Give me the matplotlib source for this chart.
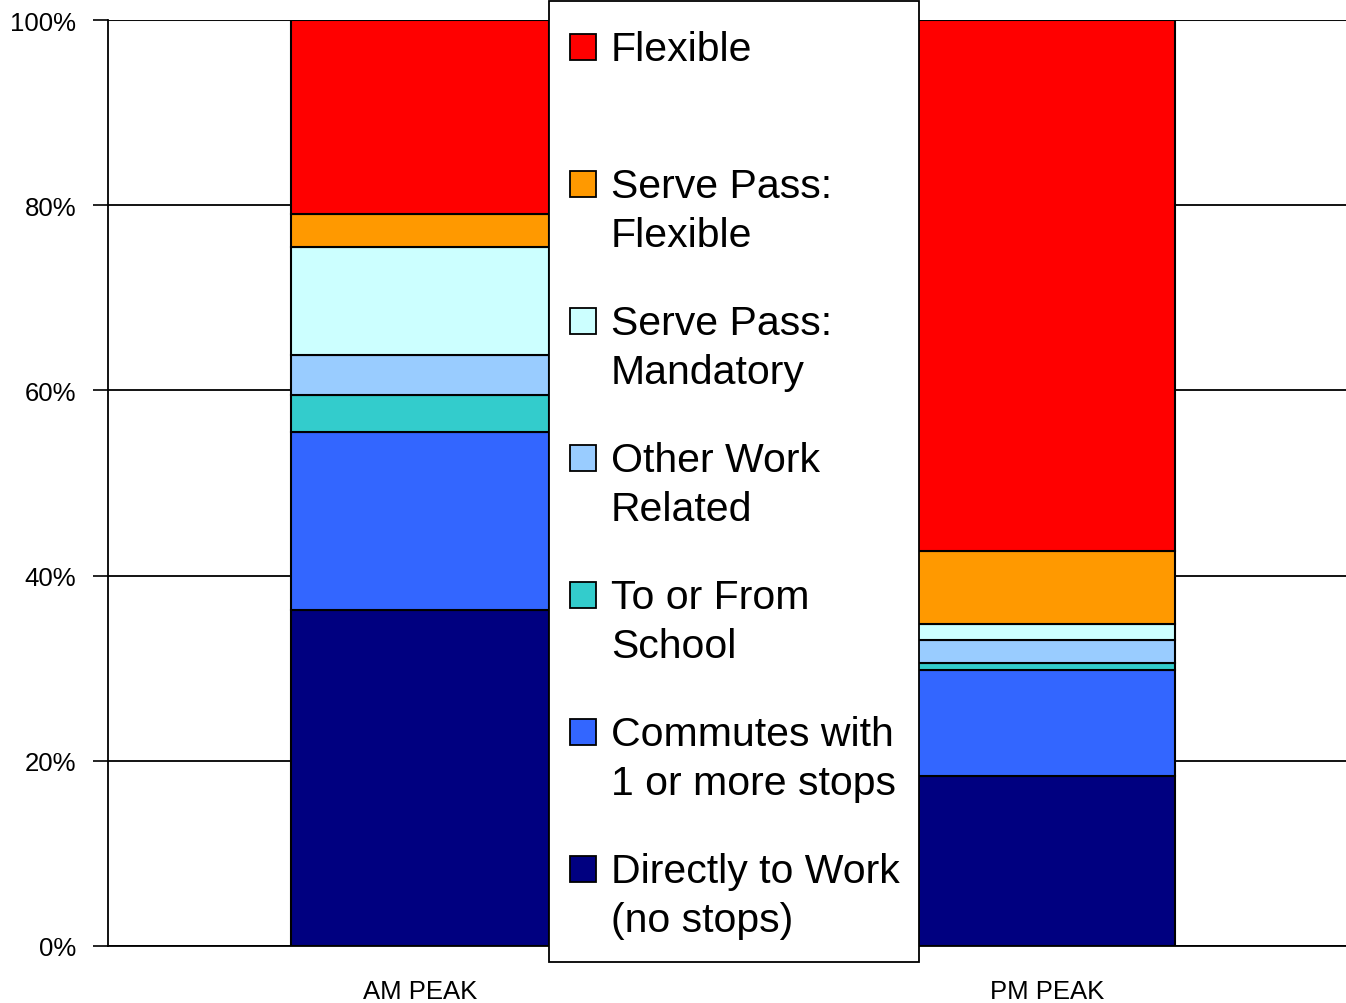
import matplotlib.pyplot as plt
from matplotlib.patches import Rectangle
import numpy as np

plt.rcParams['font.family'] = ['Liberation Sans', 'DejaVu Sans']

periods = ['AM PEAK', 'PM PEAK']
purposes = ['Directly to Work\n(no stops)', 'Commutes with\n1 or more stops', 'To or From\nSchool',
            'Other Work\nRelated', 'Serve Pass:\nMandatory', 'Serve Pass:\nFlexible', 'Flexible']
am = [36.3, 19.2, 4.0, 4.3, 11.7, 3.5, 21.0]
pm = [18.4, 11.4, 0.8, 2.4, 1.8, 7.9, 57.3]
colors = ['#000080', '#3366ff', '#33cccc', '#99ccff', '#ccffff', '#ff9900', '#ff0000']

W, H = 1346, 1004
fig = plt.figure(figsize=(W / 100, H / 100), dpi=100)
ax = fig.add_axes([108 / W, 1 - 947 / H, 1 - 108 / W, (947 - 21) / H])

x = np.arange(len(periods))
bottom = np.zeros(2)
for i, name in enumerate(purposes):
    vals = np.array([am[i], pm[i]])
    ax.bar(x, vals, 0.41, bottom=bottom, color=colors[i], edgecolor='black', linewidth=1.5,
           zorder=3)
    bottom += vals

ax.set_xlim(-0.4976, 1.477)
ax.set_ylim(0, 100)
ax.set_yticks(range(0, 101, 20))
ax.set_yticklabels([f'{v}%' for v in range(0, 101, 20)], fontsize=18.5)
ax.set_xticks(x)
ax.set_xticklabels(periods, fontsize=18.5)
ax.tick_params(axis='x', length=0, pad=24)
ax.tick_params(axis='y', length=11, width=1.2, direction='out', pad=12)
ax.yaxis.grid(True, color='black', linewidth=1.3, zorder=0)
for s in ['top', 'right']:
    ax.spines[s].set_visible(False)
ax.spines['bottom'].set_linewidth(1.3)
ax.spines['left'].set_linewidth(1.3)
ax.axhline(100, color='#888888', linewidth=1.5, zorder=1)

# legend box, drawn by hand in pixel coordinates
def px(xp, yp):
    return xp / W, 1 - yp / H

fig.patches.append(Rectangle(px(549, 963), 370 / W, 961 / H, transform=fig.transFigure,
                             facecolor='white', edgecolor='black', linewidth=1.3, zorder=10))
for k, i in enumerate(range(len(purposes) - 1, -1, -1)):
    top = 35 + 137 * k
    fig.patches.append(Rectangle(px(570, top + 26), 26 / W, 26 / H, transform=fig.transFigure,
                                 facecolor=colors[i], edgecolor='black', linewidth=1.3, zorder=11))
    fig.text(*px(611, top - 4), purposes[i], fontsize=29.5, va='top', ha='left',
             linespacing=1.37, zorder=12)

fig.savefig('out.png')
